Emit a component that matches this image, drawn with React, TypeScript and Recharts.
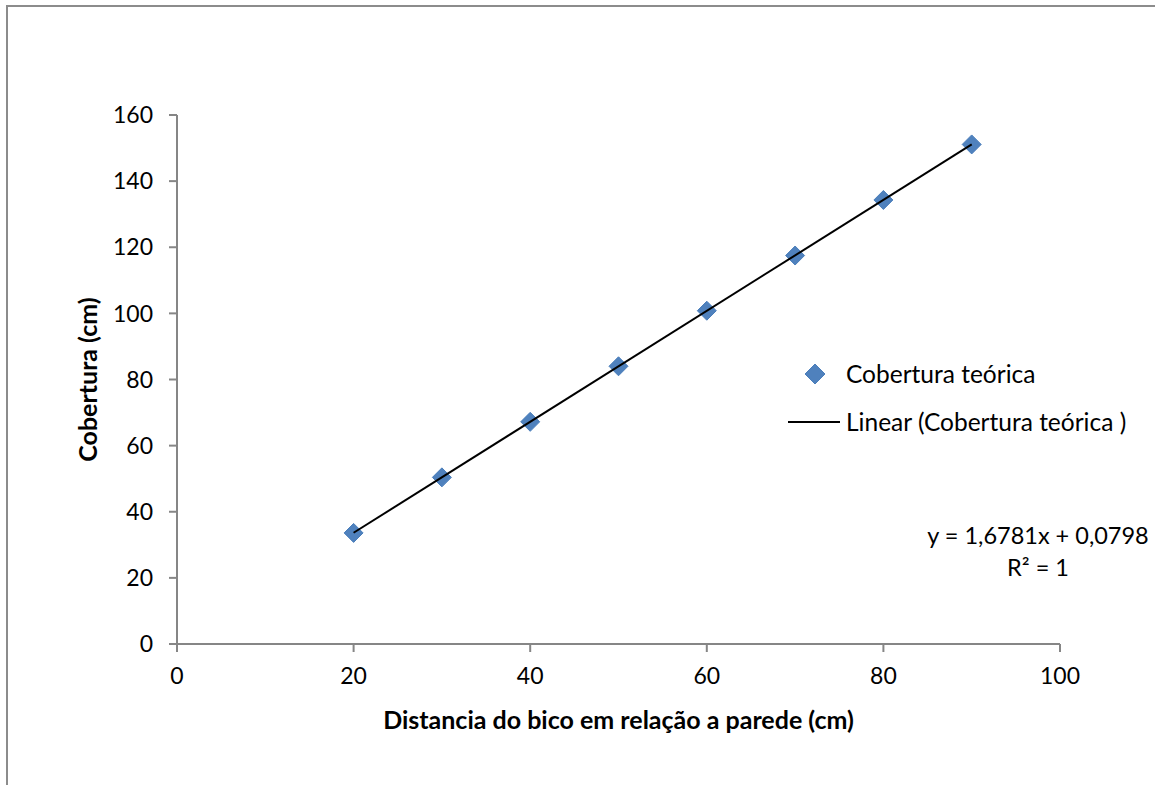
import { ScatterChart, Scatter, XAxis, YAxis, Legend, Label } from "recharts";

const distancia = [20, 30, 40, 50, 60, 70, 80, 90];
const cobertura = [33.6, 50.4, 67.2, 84.0, 100.8, 117.5, 134.3, 151.1];
const trendX = [20, 90];
const trendY = [33.64, 151.1];
const xTicks = [0, 20, 40, 60, 80, 100];
const yTicks = [0, 20, 40, 60, 80, 100, 120, 140, 160];

const pontos = distancia.map((x, i) => ({ x, y: cobertura[i] }));
const tendencia = trendX.map((x, i) => ({ x, y: trendY[i] }));

const FONT = "Lato, 'Open Sans', sans-serif";
const AXIS = "#868686";

const Diamond = (props: any) => {
  const { cx, cy } = props;
  const r = 9.5;
  return (
    <polygon
      points={`${cx},${cy - r} ${cx + r},${cy} ${cx},${cy + r} ${cx - r},${cy}`}
      fill="#4f81bd"
      stroke="#4a7ebb"
      strokeWidth={1}
    />
  );
};

const LegendBox = () => (
  <div style={{ fontFamily: FONT, fontSize: 24.5, color: "#000", lineHeight: "48px" }}>
    <div style={{ display: "flex", alignItems: "center" }}>
      <svg width={61} height={24}>
        <polygon points="30,2 40,12 30,22 20,12" fill="#4f81bd" stroke="#4a7ebb" />
      </svg>
      <span>Cobertura teórica</span>
    </div>
    <div style={{ display: "flex", alignItems: "center" }}>
      <svg width={61} height={24}>
        <line x1={3} y1={12} x2={55} y2={12} stroke="#000" strokeWidth={2} />
      </svg>
      <span>Linear (Cobertura teórica )</span>
    </div>
  </div>
);

export default function App() {
  return (
    <div
      style={{
        position: "fixed",
        left: 0,
        top: 0,
        width: 1155,
        height: 785,
        overflow: "hidden",
        background: "#fff",
      }}
    >
      <div
        style={{
          position: "absolute",
          left: 6,
          top: 5,
          width: 1200,
          height: 900,
          borderLeft: "2px solid #8c8c8c",
          borderTop: "2px solid #8c8c8c",
        }}
      />
      <ScatterChart
        width={1155}
        height={785}
        margin={{ top: 115, right: 95, left: 57, bottom: 41 }}
        style={{ position: "absolute", left: 0, top: 0 }}
      >
        <XAxis
          type="number"
          dataKey="x"
          domain={[0, 100]}
          ticks={xTicks}
          height={100}
          stroke={AXIS}
          strokeWidth={2}
          tickSize={8}
          tickMargin={16}
          tick={{ fill: "#000", fontSize: 23, fontFamily: FONT }}
        >
          <Label
            value="Distancia do bico em relação a parede (cm)"
            position="center"
            dy={26}
            style={{ fill: "#000", fontSize: 25, fontWeight: 700, fontFamily: FONT }}
          />
        </XAxis>
        <YAxis
          type="number"
          dataKey="y"
          domain={[0, 160]}
          ticks={yTicks}
          width={120}
          stroke={AXIS}
          strokeWidth={2}
          tickSize={8}
          tickMargin={16}
          tick={{ fill: "#000", fontSize: 23, fontFamily: FONT }}
        >
          <Label
            value="Cobertura (cm)"
            position="center"
            angle={-90}
            dx={-29}
            style={{ fill: "#000", fontSize: 25, fontWeight: 700, fontFamily: FONT, textAnchor: "middle" }}
          />
        </YAxis>
        <Legend
          layout="horizontal"
          verticalAlign="middle"
          content={<LegendBox />}
          wrapperStyle={{ position: "absolute", left: 785, top: 350, width: 370 }}
        />
        <Scatter
          name="Cobertura teórica"
          data={pontos}
          shape={<Diamond />}
          isAnimationActive={false}
        />
        <Scatter
          name="Linear (Cobertura teórica )"
          data={tendencia}
          line={{ stroke: "#000", strokeWidth: 2 }}
          shape={() => <g />}
          legendType="line"
          isAnimationActive={false}
        />
      </ScatterChart>
      <div
        style={{
          position: "absolute",
          left: 918,
          top: 519,
          width: 240,
          textAlign: "center",
          fontFamily: FONT,
          fontSize: 23.5,
          lineHeight: "32px",
          color: "#000",
        }}
      >
        <div>y = 1,6781x + 0,0798</div>
        <div>R² = 1</div>
      </div>
    </div>
  );
}
